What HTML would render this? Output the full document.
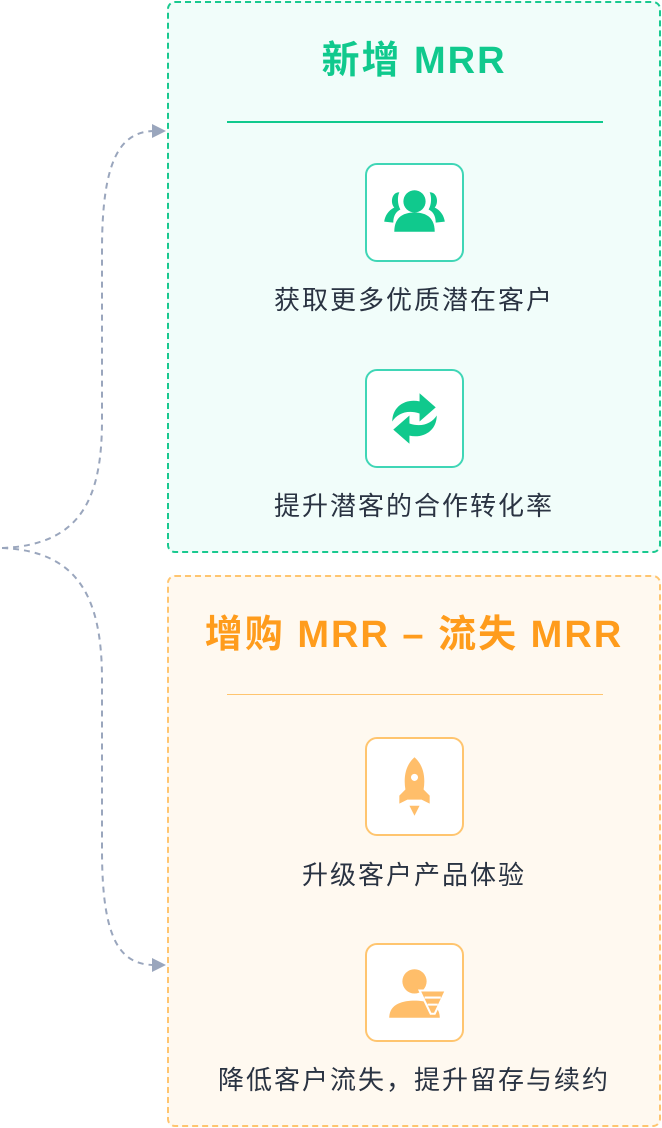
<!DOCTYPE html>
<html><head><meta charset="utf-8"><style>
body{margin:0;width:662px;height:1128px;background:#fff;position:relative;font-family:"Liberation Sans","Noto Sans CJK SC",sans-serif;overflow:hidden}
.box{position:absolute;left:167px;width:494px;border-radius:8px;box-sizing:border-box}
.g{top:1px;height:552px;border:2px dashed #19c98f;background:#f1fdfa}
.o{top:575px;height:552px;border:2px dashed #ffc56f;background:#fff9f0}
.t{position:absolute;left:0;width:100%;text-align:center;font-size:38px;font-weight:bold;letter-spacing:2px;line-height:48px}
.line{position:absolute;height:2px}
.ic{position:absolute;left:196px;width:99px;height:99px;border-radius:12px;background:#fff;box-sizing:border-box}
.lab{position:absolute;left:0;width:100%;text-align:center;font-size:26px;letter-spacing:2px;color:#2a3342;line-height:36px}
svg.a{position:absolute;left:0;top:0}
</style></head><body>
<svg class="a" width="662" height="1128">
<path d="M2 548 C80 545 102 500 102 420 L102 250 C102 160 120 131 155 131" fill="none" stroke="#9aa6bd" stroke-width="2" stroke-dasharray="6,5"/>
<path d="M2 548 C80 551 102 600 102 680 L102 850 C102 940 120 965 155 965" fill="none" stroke="#9aa6bd" stroke-width="2" stroke-dasharray="6,5"/>
<path d="M152 124 L166 131 L152 138 Z" fill="#9aa6bd"/>
<path d="M152 958 L166 965 L152 972 Z" fill="#9aa6bd"/>
</svg>
<div class="box g">
<div class="t" style="top:34px;color:#10c98d">新增 MRR</div>
<div class="line" style="left:58px;width:376px;top:118px;background:#10c98d"></div>
<div class="ic" style="top:160px;border:2px solid #3fd6b6">
<svg width="95" height="95" viewBox="0 0 94 94"><g fill="#10c98d">
<circle cx="47" cy="36" r="11"/><path d="M27 66 C27 50 38 47 47 47 C56 47 67 50 67 66 Z"/>
<path d="M32 27 C24 27 23 38 27 42 C21 45 18 50 17 56 L26 57 C26 50 29 46 33 44 C30 39 30 31 32 27Z"/>
<path d="M62 27 C70 27 71 38 67 42 C73 45 76 50 77 56 L68 57 C68 50 65 46 61 44 C64 39 64 31 62 27Z"/></g></svg></div>
<div class="lab" style="top:279px">获取更多优质潜在客户</div>
<div class="ic" style="top:366px;border:2px solid #3fd6b6">
<svg width="95" height="95" viewBox="0 0 94 94"><g fill="#10c98d">
<path d="M25 50 C25 35 38 27 52 30 L52 22 L68 36 L52 50 L52 42 C40 38 30 42 25 50Z"/>
<path d="M69 44 C69 59 56 67 42 64 L42 72 L26 58 L42 44 L42 52 C54 56 64 52 69 44Z"/></g></svg></div>
<div class="lab" style="top:485px">提升潜客的合作转化率</div>
</div>
<div class="box o">
<div class="t" style="top:34px;color:#ff9c1c">增购 MRR – 流失 MRR</div>
<div class="line" style="left:58px;width:376px;top:117px;height:1px;background:#ffc56f"></div>
<div class="ic" style="top:160px;border:2px solid #ffc56f">
<svg width="95" height="95" viewBox="0 0 94 94"><g fill="#ffbe6a">
<path d="M47 18 C38 26 36 38 38 50 L32 56 L32 64 L40 60 L54 60 L62 64 L62 56 L56 50 C58 38 56 26 47 18Z"/>
<circle cx="47" cy="38" r="3.5" fill="#fff"/><path d="M42 66 L52 66 L47 76Z"/></g></svg></div>
<div class="lab" style="top:280px">升级客户产品体验</div>
<div class="ic" style="top:366px;border:2px solid #ffc56f">
<svg width="95" height="95" viewBox="0 0 94 94"><g fill="#ffbe6a">
<circle cx="47" cy="36" r="12"/><path d="M22 72 C22 58 36 55 47 55 C58 55 72 58 72 72Z"/>
<path d="M52 45 L78 45 L67 68 L63 68Z" stroke="#fff" stroke-width="2"/></g>
<path d="M57 52 L73 52 M60 59 L70 59" stroke="#fff" stroke-width="2"/></svg></div>
<div class="lab" style="top:485px">降低客户流失，提升留存与续约</div>
</div>
</body></html>
